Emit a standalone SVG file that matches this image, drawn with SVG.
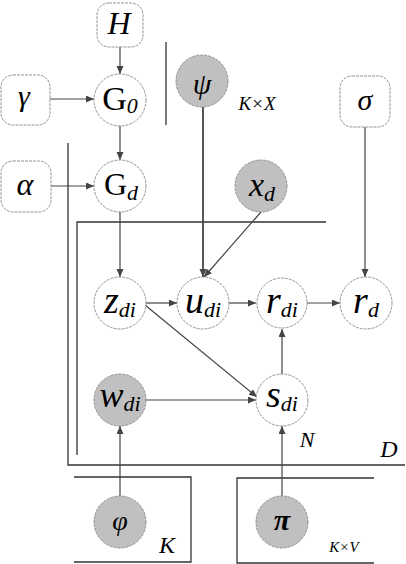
<svg xmlns="http://www.w3.org/2000/svg" width="406" height="564" viewBox="0 0 406 564">
<style>
.n{fill:#fff;stroke:#888;stroke-width:0.9;stroke-dasharray:3 1}
.g{fill:#c0c0c0;stroke:#888;stroke-width:0.9;stroke-dasharray:3 1}
.e{stroke:#444;stroke-width:1.2;fill:none}
.p{stroke:#333;stroke-width:1.3;fill:none}
</style>
<defs>
<marker id="a" markerUnits="userSpaceOnUse" markerWidth="9" markerHeight="8" refX="8" refY="3.5" orient="auto">
<path d="M0,0 L8,3.5 L0,7 z" fill="#444"/>
</marker>
</defs>
<rect width="406" height="564" fill="#fff"/>
<g id="plates">
<polyline class="p" points="68,143 68,465 405,465"/>
<polyline class="p" points="77,455 77,222 326,222"/>
<line class="p" x1="166" y1="42" x2="166" y2="125"/>
<polyline class="p" points="74,477 191,477 191,562 74,562"/>
<polyline class="p" points="374,478 237,478 237,563 374,563"/>
</g>
<g id="connectors">
<line class="e" x1="120" y1="47" x2="120" y2="74" marker-end="url(#a)"/>
<line class="e" x1="50" y1="99" x2="94" y2="99" marker-end="url(#a)"/>
<line class="e" x1="120" y1="125" x2="120" y2="160" marker-end="url(#a)"/>
<line class="e" x1="51" y1="186" x2="94" y2="186" marker-end="url(#a)"/>
<line class="e" x1="120" y1="212" x2="120" y2="277" marker-end="url(#a)"/>
<line class="e" x1="203" y1="107" x2="203" y2="277" style="stroke-width:1.8" marker-end="url(#a)"/>
<line class="e" x1="261" y1="212" x2="204" y2="277" marker-end="url(#a)"/>
<line class="e" x1="365" y1="127" x2="365" y2="277" marker-end="url(#a)"/>
<line class="e" x1="146" y1="303" x2="177" y2="303" marker-end="url(#a)"/>
<line class="e" x1="229" y1="303" x2="256" y2="303" marker-end="url(#a)"/>
<line class="e" x1="307" y1="303" x2="340" y2="303" marker-end="url(#a)"/>
<line class="e" x1="145" y1="305" x2="257" y2="397" marker-end="url(#a)"/>
<line class="e" x1="146" y1="400" x2="256" y2="400" marker-end="url(#a)"/>
<line class="e" x1="282" y1="374" x2="282" y2="329" marker-end="url(#a)"/>
<line class="e" x1="120" y1="496" x2="120" y2="426" marker-end="url(#a)"/>
<line class="e" x1="282" y1="496" x2="282" y2="426" marker-end="url(#a)"/>
</g>
<g id="labels" text-anchor="middle">
<text x="257" y="110" style="font-family:'Liberation Serif';font-style:italic;font-size:19px">K×X</text>
<text x="307" y="447" style="font-family:'Liberation Serif';font-style:italic;font-size:22px">N</text>
<text x="389" y="457" style="font-family:'Liberation Serif';font-style:italic;font-size:24px">D</text>
<text x="167" y="553" style="font-family:'Liberation Serif';font-style:italic;font-size:24px">K</text>
<text x="344" y="552" style="font-family:'Liberation Serif';font-style:italic;font-size:15px">K×V</text>
</g>
<g id="H"><rect class="n" x="97" y="3" width="46" height="44" rx="12"/><text x="119" y="34" text-anchor="middle" style="font-family:'Liberation Serif';font-style:italic;font-size:32px">H</text></g>
<g id="gamma"><rect class="n" x="1" y="75" width="49" height="50" rx="12"/><text x="24" y="106" text-anchor="middle" style="font-family:'Liberation Serif';font-style:italic;font-size:30px">γ</text></g>
<g id="G0"><circle class="n" cx="120" cy="100" r="26"/><text x="120" y="110" text-anchor="middle" style="font-family:'Liberation Serif';font-size:34px">G<tspan dy="3" style="font-size:22px;font-style:italic">0</tspan></text></g>
<g id="psi"><circle class="g" cx="202" cy="81" r="26"/><text x="202" y="94" text-anchor="middle" style="font-family:'Liberation Serif';font-style:italic;font-size:30px">ψ</text></g>
<g id="sigma"><rect class="n" x="340" y="76" width="50" height="51" rx="12"/><text x="365" y="110" text-anchor="middle" style="font-family:'Liberation Serif';font-style:italic;font-size:30px">σ</text></g>
<g id="alpha"><rect class="n" x="1" y="161" width="50" height="51" rx="12"/><text x="25" y="195" text-anchor="middle" style="font-family:'Liberation Serif';font-style:italic;font-size:32px">α</text></g>
<g id="Gd"><circle class="n" cx="120" cy="186" r="26"/><text x="121" y="195" text-anchor="middle" style="font-family:'Liberation Serif';font-size:32px">G<tspan dy="5" style="font-size:22px;font-style:italic">d</tspan></text></g>
<g id="xd"><circle class="g" cx="261" cy="186" r="26"/><text x="262" y="196" text-anchor="middle" style="font-family:'Liberation Serif';font-style:italic;font-size:34px">x<tspan dy="5" style="font-size:22px">d</tspan></text></g>
<g id="zdi"><circle class="n" cx="120" cy="303" r="26"/><text x="120" y="313" text-anchor="middle" style="font-family:'Liberation Serif';font-style:italic;font-size:38px">z<tspan dy="4" style="font-size:22px">di</tspan></text></g>
<g id="udi"><circle class="n" cx="203" cy="303" r="26"/><text x="203" y="313" text-anchor="middle" style="font-family:'Liberation Serif';font-style:italic;font-size:38px">u<tspan dy="4" style="font-size:22px">di</tspan></text></g>
<g id="rdi"><circle class="n" cx="282" cy="303" r="25"/><text x="282" y="313" text-anchor="middle" style="font-family:'Liberation Serif';font-style:italic;font-size:38px">r<tspan dy="4" style="font-size:22px">di</tspan></text></g>
<g id="rd"><circle class="n" cx="366" cy="303" r="26"/><text x="366" y="313" text-anchor="middle" style="font-family:'Liberation Serif';font-style:italic;font-size:38px">r<tspan dy="4" style="font-size:22px">d</tspan></text></g>
<g id="wdi"><circle class="g" cx="120" cy="400" r="26"/><text x="120" y="407" text-anchor="middle" style="font-family:'Liberation Serif';font-style:italic;font-size:36px">w<tspan dy="4" style="font-size:22px">di</tspan></text></g>
<g id="sdi"><circle class="n" cx="282" cy="400" r="26"/><text x="282" y="407" text-anchor="middle" style="font-family:'Liberation Serif';font-style:italic;font-size:38px">s<tspan dy="4" style="font-size:22px">di</tspan></text></g>
<g id="phi"><circle class="g" cx="120" cy="522" r="26"/><text x="120" y="530" text-anchor="middle" style="font-family:'Liberation Serif';font-style:italic;font-size:28px">φ</text></g>
<g id="pi"><circle class="g" cx="282" cy="522" r="26"/><text x="282" y="530" text-anchor="middle" style="font-family:'Liberation Serif';font-style:italic;font-size:30px;font-weight:bold">π</text></g>
</svg>
